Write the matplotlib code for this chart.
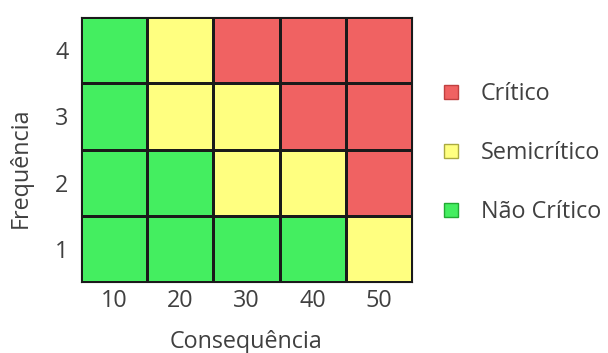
import matplotlib
matplotlib.use("Agg")
import matplotlib.pyplot as plt
from matplotlib.colors import ListedColormap
from matplotlib.lines import Line2D
import numpy as np

# Matriz de risco: linhas = frequência (1..4), colunas = consequência
consequencia = [10, 20, 30, 40, 50]
frequencia = [1, 2, 3, 4]
# 0 = Não Crítico, 1 = Semicrítico, 2 = Crítico
nivel = [
    [0, 0, 0, 0, 1],  # freq 1
    [0, 0, 1, 1, 2],  # freq 2
    [0, 1, 1, 2, 2],  # freq 3
    [0, 1, 2, 2, 2],  # freq 4
]
categorias = ["Não Crítico", "Semicrítico", "Crítico"]
cores = ["#44ee60", "#ffff80", "#f06262"]
bordas = ["#22aa33", "#aaaa40", "#c04040"]

plt.rcParams["font.family"] = ["Open Sans", "DejaVu Sans"]
TXT = "#404040"
FS = 16.8

fig = plt.figure(figsize=(6.08, 3.53), dpi=100)
ax = fig.add_axes([0.1332, 0.2011, 0.5444, 0.7507])

cmap = ListedColormap(cores)
x_edges = np.arange(len(consequencia) + 1)
y_edges = np.arange(len(frequencia) + 1)
ax.pcolormesh(x_edges, y_edges, np.array(nivel), cmap=cmap, vmin=-0.5, vmax=2.5,
              edgecolor="#1a1a1a", linewidth=0.8)

ax.set_xlim(0, len(consequencia))
ax.set_ylim(0, len(frequencia))
ax.set_xticks(x_edges[:-1] + 0.5)
ax.set_xticklabels([str(c) for c in consequencia], fontsize=FS, color=TXT)
ax.set_yticks(y_edges[:-1] + 0.5)
ax.set_yticklabels([str(f) for f in frequencia], fontsize=FS, color=TXT)
ax.tick_params(axis="x", length=0, pad=5)
ax.tick_params(axis="y", length=0, pad=9)
for s in ax.spines.values():
    s.set_color("#1a1a1a")
    s.set_linewidth(0.8)

ax.set_xlabel("Consequência", fontsize=FS, color=TXT)
ax.xaxis.set_label_coords(0.5, -0.182)
ax.set_ylabel("Frequência", fontsize=FS, color=TXT)
ax.yaxis.set_label_coords(-0.145, 0.43)

# Legenda (Crítico no topo)
handles = [
    Line2D([0], [0], marker="s", linestyle="none", markersize=10,
           markerfacecolor=cores[i], markeredgecolor=bordas[i], markeredgewidth=1.0,
           label=categorias[i])
    for i in [2, 1, 0]
]
fig.legend(handles=handles, loc="center left", bbox_to_anchor=(0.708, 0.567),
           frameon=False, fontsize=FS, labelspacing=1.5, handlelength=0.8,
           handletextpad=0.85, borderpad=0, labelcolor=TXT)

fig.savefig("out.png", dpi=100)
